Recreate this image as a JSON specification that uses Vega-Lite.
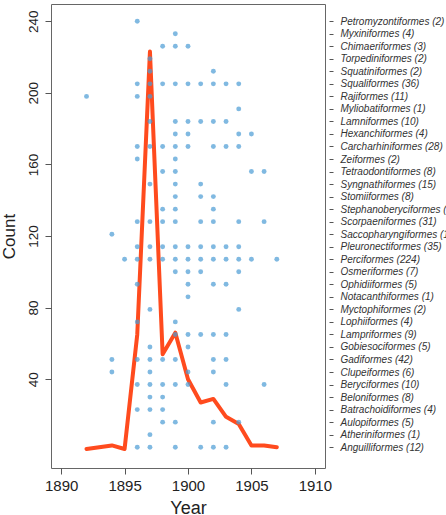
{
  "$schema": "https://vega.github.io/schema/vega-lite/v6.json",
  "autosize": {"type": "none"},
  "padding": {"left": 51, "top": 4, "right": 121, "bottom": 47},
  "width": 274,
  "height": 464,
  "background": "white",
  "config": {
    "view": {"stroke": "#666666", "strokeWidth": 1},
    "font": "Liberation Sans",
    "axis": {"grid": false, "domain": false, "tickColor": "#555555", "labelColor": "#222222", "titleColor": "#222222", "titleFontWeight": "normal", "labelFont": "Liberation Sans", "titleFont": "Liberation Sans"}
  },
  "datasets": {
    "yearly": [
      {"year": 1892, "count": 1},
      {"year": 1894, "count": 3},
      {"year": 1895, "count": 1},
      {"year": 1896, "count": 65},
      {"year": 1897, "count": 223},
      {"year": 1898, "count": 54},
      {"year": 1899, "count": 66},
      {"year": 1900, "count": 40},
      {"year": 1901, "count": 27},
      {"year": 1902, "count": 29},
      {"year": 1903, "count": 19},
      {"year": 1904, "count": 15},
      {"year": 1905, "count": 3},
      {"year": 1906, "count": 3},
      {"year": 1907, "count": 2}
    ],
    "orders": [
      {"order": "Petromyzontiformes", "species": 2},
      {"order": "Myxiniformes", "species": 4},
      {"order": "Chimaeriformes", "species": 3},
      {"order": "Torpediniformes", "species": 2},
      {"order": "Squatiniformes", "species": 2},
      {"order": "Squaliformes", "species": 36},
      {"order": "Rajiformes", "species": 11},
      {"order": "Myliobatiformes", "species": 1},
      {"order": "Lamniformes", "species": 10},
      {"order": "Hexanchiformes", "species": 4},
      {"order": "Carcharhiniformes", "species": 28},
      {"order": "Zeiformes", "species": 2},
      {"order": "Tetraodontiformes", "species": 8},
      {"order": "Syngnathiformes", "species": 15},
      {"order": "Stomiiformes", "species": 8},
      {"order": "Stephanoberyciformes", "species": 3},
      {"order": "Scorpaeniformes", "species": 31},
      {"order": "Saccopharyngiformes", "species": 1},
      {"order": "Pleuronectiformes", "species": 35},
      {"order": "Perciformes", "species": 224},
      {"order": "Osmeriformes", "species": 7},
      {"order": "Ophidiiformes", "species": 5},
      {"order": "Notacanthiformes", "species": 1},
      {"order": "Myctophiformes", "species": 2},
      {"order": "Lophiiformes", "species": 4},
      {"order": "Lampriformes", "species": 9},
      {"order": "Gobiesociformes", "species": 5},
      {"order": "Gadiformes", "species": 42},
      {"order": "Clupeiformes", "species": 6},
      {"order": "Beryciformes", "species": 10},
      {"order": "Beloniformes", "species": 8},
      {"order": "Batrachoidiformes", "species": 4},
      {"order": "Aulopiformes", "species": 5},
      {"order": "Atheriniformes", "species": 1},
      {"order": "Anguilliformes", "species": 12}
    ],
    "described": [
      {"order": "Petromyzontiformes", "year": 1896},
      {"order": "Myxiniformes", "year": 1899},
      {"order": "Chimaeriformes", "year": 1898},
      {"order": "Chimaeriformes", "year": 1899},
      {"order": "Chimaeriformes", "year": 1900},
      {"order": "Torpediniformes", "year": 1897},
      {"order": "Squatiniformes", "year": 1897},
      {"order": "Squatiniformes", "year": 1902},
      {"order": "Squaliformes", "year": 1896},
      {"order": "Squaliformes", "year": 1897},
      {"order": "Squaliformes", "year": 1898},
      {"order": "Squaliformes", "year": 1899},
      {"order": "Squaliformes", "year": 1900},
      {"order": "Squaliformes", "year": 1901},
      {"order": "Squaliformes", "year": 1902},
      {"order": "Squaliformes", "year": 1903},
      {"order": "Squaliformes", "year": 1904},
      {"order": "Rajiformes", "year": 1892},
      {"order": "Rajiformes", "year": 1896},
      {"order": "Rajiformes", "year": 1897},
      {"order": "Myliobatiformes", "year": 1904},
      {"order": "Lamniformes", "year": 1897},
      {"order": "Lamniformes", "year": 1899},
      {"order": "Lamniformes", "year": 1900},
      {"order": "Lamniformes", "year": 1901},
      {"order": "Lamniformes", "year": 1902},
      {"order": "Lamniformes", "year": 1903},
      {"order": "Hexanchiformes", "year": 1899},
      {"order": "Hexanchiformes", "year": 1900},
      {"order": "Hexanchiformes", "year": 1904},
      {"order": "Hexanchiformes", "year": 1905},
      {"order": "Carcharhiniformes", "year": 1896},
      {"order": "Carcharhiniformes", "year": 1897},
      {"order": "Carcharhiniformes", "year": 1898},
      {"order": "Carcharhiniformes", "year": 1899},
      {"order": "Carcharhiniformes", "year": 1900},
      {"order": "Carcharhiniformes", "year": 1902},
      {"order": "Carcharhiniformes", "year": 1903},
      {"order": "Carcharhiniformes", "year": 1904},
      {"order": "Zeiformes", "year": 1896},
      {"order": "Zeiformes", "year": 1899},
      {"order": "Tetraodontiformes", "year": 1898},
      {"order": "Tetraodontiformes", "year": 1899},
      {"order": "Tetraodontiformes", "year": 1905},
      {"order": "Tetraodontiformes", "year": 1906},
      {"order": "Syngnathiformes", "year": 1897},
      {"order": "Syngnathiformes", "year": 1899},
      {"order": "Syngnathiformes", "year": 1901},
      {"order": "Stomiiformes", "year": 1899},
      {"order": "Stomiiformes", "year": 1901},
      {"order": "Stomiiformes", "year": 1902},
      {"order": "Stephanoberyciformes", "year": 1898},
      {"order": "Stephanoberyciformes", "year": 1899},
      {"order": "Stephanoberyciformes", "year": 1902},
      {"order": "Scorpaeniformes", "year": 1896},
      {"order": "Scorpaeniformes", "year": 1897},
      {"order": "Scorpaeniformes", "year": 1898},
      {"order": "Scorpaeniformes", "year": 1899},
      {"order": "Scorpaeniformes", "year": 1901},
      {"order": "Scorpaeniformes", "year": 1902},
      {"order": "Scorpaeniformes", "year": 1904},
      {"order": "Scorpaeniformes", "year": 1906},
      {"order": "Saccopharyngiformes", "year": 1894},
      {"order": "Pleuronectiformes", "year": 1896},
      {"order": "Pleuronectiformes", "year": 1897},
      {"order": "Pleuronectiformes", "year": 1898},
      {"order": "Pleuronectiformes", "year": 1899},
      {"order": "Pleuronectiformes", "year": 1900},
      {"order": "Pleuronectiformes", "year": 1901},
      {"order": "Pleuronectiformes", "year": 1902},
      {"order": "Pleuronectiformes", "year": 1903},
      {"order": "Pleuronectiformes", "year": 1904},
      {"order": "Perciformes", "year": 1895},
      {"order": "Perciformes", "year": 1896},
      {"order": "Perciformes", "year": 1897},
      {"order": "Perciformes", "year": 1898},
      {"order": "Perciformes", "year": 1899},
      {"order": "Perciformes", "year": 1900},
      {"order": "Perciformes", "year": 1901},
      {"order": "Perciformes", "year": 1902},
      {"order": "Perciformes", "year": 1903},
      {"order": "Perciformes", "year": 1904},
      {"order": "Perciformes", "year": 1905},
      {"order": "Perciformes", "year": 1907},
      {"order": "Osmeriformes", "year": 1899},
      {"order": "Osmeriformes", "year": 1900},
      {"order": "Osmeriformes", "year": 1901},
      {"order": "Osmeriformes", "year": 1904},
      {"order": "Ophidiiformes", "year": 1896},
      {"order": "Ophidiiformes", "year": 1900},
      {"order": "Ophidiiformes", "year": 1902},
      {"order": "Ophidiiformes", "year": 1903},
      {"order": "Notacanthiformes", "year": 1900},
      {"order": "Myctophiformes", "year": 1897},
      {"order": "Myctophiformes", "year": 1904},
      {"order": "Lophiiformes", "year": 1896},
      {"order": "Lophiiformes", "year": 1899},
      {"order": "Lampriformes", "year": 1899},
      {"order": "Lampriformes", "year": 1900},
      {"order": "Lampriformes", "year": 1901},
      {"order": "Lampriformes", "year": 1902},
      {"order": "Lampriformes", "year": 1903},
      {"order": "Gobiesociformes", "year": 1897},
      {"order": "Gobiesociformes", "year": 1900},
      {"order": "Gadiformes", "year": 1894},
      {"order": "Gadiformes", "year": 1896},
      {"order": "Gadiformes", "year": 1897},
      {"order": "Gadiformes", "year": 1898},
      {"order": "Gadiformes", "year": 1899},
      {"order": "Gadiformes", "year": 1902},
      {"order": "Gadiformes", "year": 1903},
      {"order": "Clupeiformes", "year": 1894},
      {"order": "Clupeiformes", "year": 1897},
      {"order": "Clupeiformes", "year": 1900},
      {"order": "Clupeiformes", "year": 1902},
      {"order": "Beryciformes", "year": 1896},
      {"order": "Beryciformes", "year": 1897},
      {"order": "Beryciformes", "year": 1898},
      {"order": "Beryciformes", "year": 1899},
      {"order": "Beryciformes", "year": 1900},
      {"order": "Beryciformes", "year": 1903},
      {"order": "Beryciformes", "year": 1906},
      {"order": "Beloniformes", "year": 1897},
      {"order": "Beloniformes", "year": 1898},
      {"order": "Batrachoidiformes", "year": 1896},
      {"order": "Batrachoidiformes", "year": 1897},
      {"order": "Batrachoidiformes", "year": 1898},
      {"order": "Aulopiformes", "year": 1898},
      {"order": "Aulopiformes", "year": 1899},
      {"order": "Aulopiformes", "year": 1902},
      {"order": "Aulopiformes", "year": 1904},
      {"order": "Atheriniformes", "year": 1897},
      {"order": "Anguilliformes", "year": 1896},
      {"order": "Anguilliformes", "year": 1897},
      {"order": "Anguilliformes", "year": 1899},
      {"order": "Anguilliformes", "year": 1901},
      {"order": "Anguilliformes", "year": 1902},
      {"order": "Anguilliformes", "year": 1903}
    ]
  },
  "layer": [
    {
      "data": {"name": "yearly"},
      "mark": {"type": "line", "color": "#FF4B1E", "strokeWidth": 4, "strokeCap": "round", "strokeJoin": "round"},
      "encoding": {
        "x": {
          "field": "year", "type": "quantitative",
          "scale": {"domain": [1889.2, 1910.8], "nice": false, "zero": false},
          "axis": {"values": [1890, 1895, 1900, 1905, 1910], "format": "d", "title": "Year", "tickSize": 6, "labelFontSize": 15, "labelPadding": 4, "titleFontSize": 18, "titlePadding": 6}
        },
        "y": {
          "field": "count", "type": "quantitative",
          "scale": {"domain": [-9.6, 249.6], "nice": false, "zero": false},
          "axis": {"values": [40, 80, 120, 160, 200, 240], "title": "Count", "tickSize": 6, "labelAngle": -90, "labelAlign": "center", "labelBaseline": "bottom", "labelFontSize": 13.5, "labelPadding": 5, "titleFontSize": 17, "titlePadding": 8}
        }
      }
    },
    {
      "data": {"name": "described"},
      "transform": [
        {"lookup": "order", "from": {"data": {"name": "orders"}, "key": "order", "fields": ["species"]}},
        {"calculate": "datum.order + ' (' + datum.species + ')'", "as": "label"}
      ],
      "mark": {"type": "circle", "color": "#4A9BD4", "opacity": 0.7, "size": 24},
      "encoding": {
        "x": {"field": "year", "type": "quantitative"},
        "y": {
          "field": "label", "type": "nominal",
          "scale": {
            "type": "point", "padding": 0, "round": false, "range": [17.2, 443.2],
            "domain": [
              "Petromyzontiformes (2)", "Myxiniformes (4)", "Chimaeriformes (3)", "Torpediniformes (2)",
              "Squatiniformes (2)", "Squaliformes (36)", "Rajiformes (11)", "Myliobatiformes (1)",
              "Lamniformes (10)", "Hexanchiformes (4)", "Carcharhiniformes (28)", "Zeiformes (2)",
              "Tetraodontiformes (8)", "Syngnathiformes (15)", "Stomiiformes (8)", "Stephanoberyciformes (3)",
              "Scorpaeniformes (31)", "Saccopharyngiformes (1)", "Pleuronectiformes (35)", "Perciformes (224)",
              "Osmeriformes (7)", "Ophidiiformes (5)", "Notacanthiformes (1)", "Myctophiformes (2)",
              "Lophiiformes (4)", "Lampriformes (9)", "Gobiesociformes (5)", "Gadiformes (42)",
              "Clupeiformes (6)", "Beryciformes (10)", "Beloniformes (8)", "Batrachoidiformes (4)",
              "Aulopiformes (5)", "Atheriniformes (1)", "Anguilliformes (12)"
            ]
          },
          "axis": {"orient": "right", "title": null, "offset": 4, "tickSize": 4, "labelPadding": 7, "labelFontSize": 10, "labelFontStyle": "italic", "labelColor": "#333333", "labelLimit": 0}
        }
      }
    }
  ],
  "resolve": {"scale": {"y": "independent"}, "axis": {"y": "independent"}}
}
